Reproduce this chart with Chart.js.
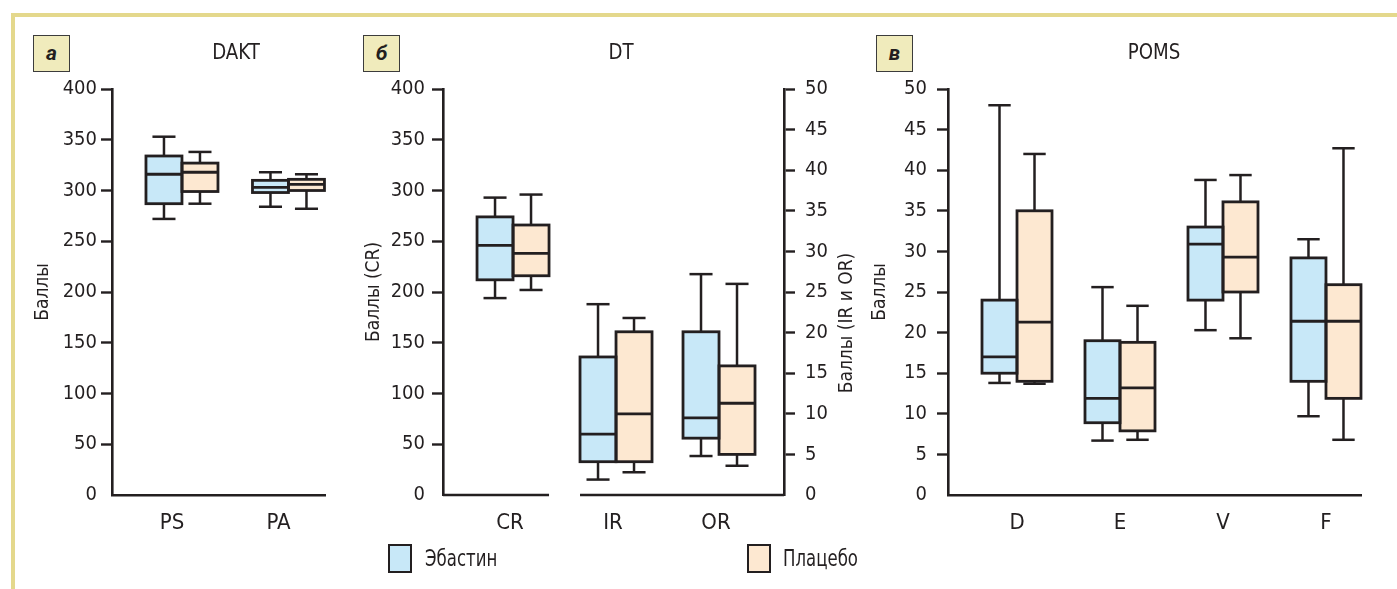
<!DOCTYPE html>
<html>
<head>
<meta charset="utf-8">
<script src="https://cdn.jsdelivr.net/npm/chart.js@4.4.1/dist/chart.umd.min.js"></script>
<style>
  html, body { margin: 0; padding: 0; background: #fff; }
  #wrap { position: relative; width: 1397px; height: 589px; overflow: hidden; background: #fff;
          font-family: 'Liberation Sans Narrow', 'DejaVu Sans Condensed', 'Arial Narrow', Roboto, sans-serif; color: #231f20; }
  #frame { position: absolute; left: 11px; top: 13px; width: 1500px; height: 700px;
           border-left: 4px solid #e4d88c; border-top: 4px solid #e4d88c; }
  canvas { position: absolute; top: 0; }
  .letter { position: absolute; top: 35px; width: 37px; height: 37px; box-sizing: border-box;
            background: #f0ebbc; border: 1.5px solid #3c3c3c; text-align: center; line-height: 35px;
            font-family: Roboto, 'Noto Sans', sans-serif; font-weight: bold; font-style: italic; font-size: 21px; }
  .ptitle { position: absolute; top: 37px; width: 200px; text-align: center; line-height: 30px; font-size: 22px;
            transform: scaleX(0.92); }
  .swatch { position: absolute; top: 544px; width: 24px; height: 29px; box-sizing: border-box; border: 2.5px solid #231f20; }
  .legtext { position: absolute; top: 543px; line-height: 30px; font-size: 23px;
             transform: scaleX(0.8); transform-origin: left center; }
  #rtitle { position: absolute; left: 745px; top: 311px; width: 200px; text-align: center; line-height: 24px;
            font-size: 19px; transform: rotate(-90deg); }
</style>
</head>
<body>
<div id="wrap">
  <div id="frame"></div>
  <canvas id="chartA" width="340" height="589" style="left:0px"></canvas>
  <canvas id="chartB" width="520" height="589" style="left:340px"></canvas>
  <canvas id="chartC" width="537" height="589" style="left:860px"></canvas>

  <div class="letter" style="left:33px">а</div>
  <div class="letter" style="left:363px">б</div>
  <div class="letter" style="left:876px">в</div>
  <div class="ptitle" style="left:136px">DAKT</div>
  <div class="ptitle" style="left:521px">DT</div>
  <div class="ptitle" style="left:1054px">POMS</div>
  <div id="rtitle">Баллы (IR и OR)</div>

  <div class="swatch" style="left:388px;background:#c8e8f8"></div>
  <div class="legtext" style="left:425px">Эбастин</div>
  <div class="swatch" style="left:747px;background:#fde8d1"></div>
  <div class="legtext" style="left:783px">Плацебо</div>
</div>

<script>
const INK = '#231f20';
const BLUE = '#c8e8f8';
const PEACH = '#fde8d1';
const FONT = "'Liberation Sans Narrow', 'DejaVu Sans Condensed', 'Arial Narrow', Roboto, sans-serif";

// each box: [min, Q1, median, Q3, max]
// panel a - DAKT
const daktLabels = ['PS', 'PA'];
const daktEbastin = [[272, 287, 316, 334, 353], [284, 298, 303, 310, 318]];
const daktPlacebo = [[287, 299, 318, 327, 338], [282, 300, 306, 311, 316]];

// panel b - DT (CR on the left axis, IR and OR on the right one)
const dtLabels = ['CR', 'IR', 'OR'];
const crEbastin = [[194, 212, 246, 274, 293]];
const crPlacebo = [[202, 216, 238, 266, 296]];
const irorEbastin = [[1.9, 4.1, 7.5, 17.0, 23.5], [4.8, 7.0, 9.5, 20.1, 27.2]];
const irorPlacebo = [[2.8, 4.1, 10.0, 20.1, 21.8], [3.6, 5.0, 11.3, 15.9, 26.0]];

// panel c - POMS
const pomsLabels = ['D', 'E', 'V', 'F'];
const pomsEbastin = [[13.8, 15.0, 17.0, 24.0, 48.0], [6.7, 8.9, 11.9, 19.0, 25.6],
                     [20.3, 24.0, 30.9, 33.0, 38.8], [9.7, 14.0, 21.4, 29.2, 31.5]];
const pomsPlacebo = [[13.7, 14.0, 21.3, 35.0, 42.0], [6.8, 7.9, 13.2, 18.8, 23.3],
                     [19.3, 25.0, 29.3, 36.1, 39.4], [6.8, 11.9, 21.4, 25.9, 42.7]];

// tick labels
const ticks400 = [0, 50, 100, 150, 200, 250, 300, 350, 400];
const ticks50 = [0, 5, 10, 15, 20, 25, 30, 35, 40, 45, 50];

Chart.defaults.font.family = FONT;
Chart.defaults.color = INK;

// whiskers, median and outline drawn on top of the floating bars
const boxPlugin = {
    id: 'boxWhiskers',
    afterDatasetsDraw(chart) {
        const ctx = chart.ctx;
        ctx.save();
        ctx.strokeStyle = INK;
        const line = (x1, y1, x2, y2) => {
            ctx.beginPath(); ctx.moveTo(x1, y1); ctx.lineTo(x2, y2); ctx.stroke();
        };
        chart.data.datasets.forEach((ds, di) => {
            const meta = chart.getDatasetMeta(di);
            const ys = chart.scales[meta.yAxisID];
            meta.data.forEach((bar, i) => {
                const s = ds.stats[i];
                if (!s) return;
                const px = v => ys.getPixelForValue(v);
                const half = bar.width / 2;
                const cap = bar.width * 0.32;
                ctx.lineWidth = 2.5;
                line(bar.x, px(s[3]), bar.x, px(s[4]));
                line(bar.x - cap, px(s[4]), bar.x + cap, px(s[4]));
                line(bar.x, px(s[1]), bar.x, px(s[0]));
                line(bar.x - cap, px(s[0]), bar.x + cap, px(s[0]));
                ctx.lineWidth = 2.8;
                ctx.strokeRect(bar.x - half, px(s[3]), bar.width, px(s[1]) - px(s[3]));
                line(bar.x - half, px(s[2]), bar.x + half, px(s[2]));
            });
        });
        ctx.restore();
    }
};

// x axis of panel b is broken between CR and IR
const brokenAxis = {
    id: 'brokenAxis',
    afterDatasetsDraw(chart) {
        const area = chart.chartArea;
        const crBar = chart.getDatasetMeta(1).data[0];
        const irBar = chart.getDatasetMeta(2).data[0];
        const ctx = chart.ctx;
        ctx.save();
        ctx.strokeStyle = INK;
        ctx.lineWidth = 2.6;
        ctx.beginPath();
        ctx.moveTo(area.left, area.bottom);
        ctx.lineTo(crBar.x + crBar.width / 2, area.bottom);
        ctx.moveTo(irBar.x - irBar.width / 2, area.bottom);
        ctx.lineTo(area.right, area.bottom);
        ctx.stroke();
        ctx.restore();
    }
};

function boxSet(label, stats, color, stack, axis, start, thick) {
    return {
        label: label,
        stack: stack,
        yAxisID: axis,
        backgroundColor: color,
        borderWidth: 0,
        barThickness: thick,
        stats: stats,
        data: stats.map((s, i) => ({ x: start + i, y: [s[1], s[3]] }))
    };
}

function yScale(ticks, pos, width, pad, title, titlePad) {
    return {
        type: 'linear',
        position: pos,
        min: ticks[0],
        max: ticks[ticks.length - 1],
        stacked: false,
        afterBuildTicks: s => { s.ticks = ticks.map(v => ({ value: v })); },
        afterFit: s => { s.width = width; },
        grid: {
            drawOnChartArea: false, drawTicks: true, tickLength: 11, tickWidth: 2.4,
            tickColor: c => (c.tick && c.tick.value === 0) ? 'rgba(0,0,0,0)' : INK
        },
        border: { display: true, width: 2.6, color: INK },
        ticks: { padding: pad, font: { size: 20 }, color: INK },
        title: title
            ? { display: true, text: title, font: { size: 19 }, color: INK, padding: { top: titlePad, bottom: 0 } }
            : { display: false }
    };
}

function xScale(labels, min, max, labelOffset, showBorder) {
    return {
        type: 'linear',
        min: min,
        max: max,
        offset: false,
        bounds: 'data',
        afterBuildTicks: s => { s.ticks = labels.map((_, i) => ({ value: i })); },
        afterFit: s => { s.height = 60; },
        grid: { display: false, offset: false },
        border: { display: showBorder, width: 2.6, color: INK },
        ticks: {
            callback: v => labels[v], padding: 7, labelOffset: labelOffset,
            font: { size: 22 }, color: INK, maxRotation: 0, autoSkip: false
        }
    };
}

const common = {
    responsive: false,
    animation: false,
    plugins: { legend: { display: false }, tooltip: { enabled: false } }
};

// panel a
new Chart(document.getElementById('chartA'), {
    type: 'bar',
    data: {
        datasets: [
            boxSet('Эбастин', daktEbastin, BLUE, 'e', 'y', 0, 36),
            boxSet('Плацебо', daktPlacebo, PEACH, 'p', 'y', 0, 36)
        ]
    },
    options: Object.assign({}, common, {
        layout: { padding: { left: 0, right: 15, top: 89, bottom: 34 } },
        scales: {
            x: xScale(daktLabels, -0.657, 1.343, -10, true),
            y: yScale(ticks400, 'left', 112, 4, 'Баллы', 32)
        }
    }),
    plugins: [boxPlugin]
});

// panel b
new Chart(document.getElementById('chartB'), {
    type: 'bar',
    data: {
        datasets: [
            boxSet('Эбастин', crEbastin, BLUE, 'e', 'y', 0, 36),
            boxSet('Плацебо', crPlacebo, PEACH, 'p', 'y', 0, 36),
            boxSet('Эбастин', irorEbastin, BLUE, 'e', 'y1', 1, 36),
            boxSet('Плацебо', irorPlacebo, PEACH, 'p', 'y1', 1, 36)
        ]
    },
    options: Object.assign({}, common, {
        layout: { padding: { left: 0, right: 16, top: 89, bottom: 34 } },
        scales: {
            x: xScale(dtLabels, -0.680, 2.631, -3, false),
            y: yScale(ticks400, 'left', 103, 7, 'Баллы (CR)', 23),
            y1: yScale(ticks50, 'right', 60, 10, null, 0)
        }
    }),
    plugins: [boxPlugin, brokenAxis]
});

// panel c
new Chart(document.getElementById('chartC'), {
    type: 'bar',
    data: {
        datasets: [
            boxSet('Эбастин', pomsEbastin, BLUE, 'e', 'y', 0, 35),
            boxSet('Плацебо', pomsPlacebo, PEACH, 'p', 'y', 0, 35)
        ]
    },
    options: Object.assign({}, common, {
        layout: { padding: { left: 0, right: 36, top: 89, bottom: 34 } },
        scales: {
            x: xScale(pomsLabels, -0.670, 3.340, 0, true),
            y: yScale(ticks50, 'left', 88, 10, 'Баллы', 9)
        }
    }),
    plugins: [boxPlugin]
});
</script>
</body>
</html>
